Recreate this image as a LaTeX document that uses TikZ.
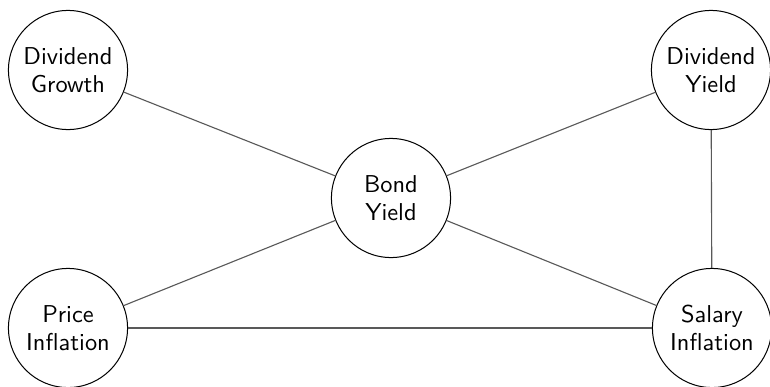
\documentclass[tikz,border=0pt]{standalone}
\usepackage{amsmath,amssymb}
\usepackage{tikz}
\usetikzlibrary{positioning,calc}

\begin{document}
\begin{tikzpicture}[x=0.0157cm, y=-0.0157cm,
    factor/.style={circle, draw, line width=0.45pt, minimum size=1.87cm, inner sep=0pt, align=center, font=\sffamily\fontsize{10.9}{12.6}\selectfont},
    link/.style={draw=black!65, line width=0.5pt}]
    \useasboundingbox (0, 0) rectangle (770, 387);
    % the five factors
    \node[factor] (growth) at (68, 70) {Dividend\\Growth};
    \node[factor] (dyield) at (711, 70) {Dividend\\Yield};
    \node[factor] (bond) at (391, 198) {Bond\\Yield};
    \node[factor] (price) at (68, 328) {Price\\Inflation};
    \node[factor] (salary) at (712, 328) {Salary\\Inflation};

    % links
    \draw[link] (growth) -- (bond);
    \draw[link] (dyield) -- (bond);
    \draw[link] (price) -- (bond);
    \draw[link] (salary) -- (bond);
    \draw[link] (price) -- (salary);
    \draw[link] (dyield) -- (salary);
\end{tikzpicture}
\end{document}
